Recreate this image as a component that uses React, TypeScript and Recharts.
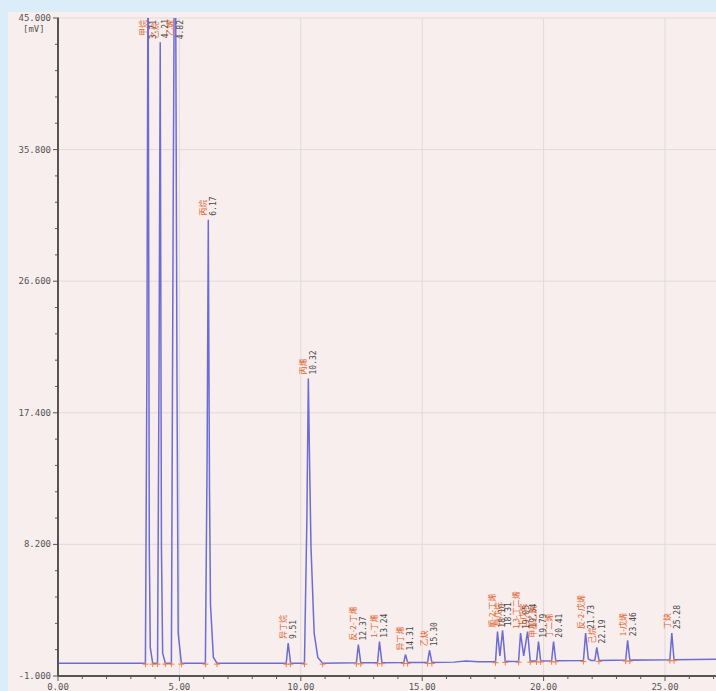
import React from 'react';
import { ComposedChart, Line, Scatter, XAxis, YAxis, ReferenceLine } from 'recharts';

// detector trace: [minutes, mV]
const trace: [number, number][] = [
  [0, -0.1],
  [3.6, -0.1], [3.66, 20], [3.71, 52], [3.76, 8], [3.8, 1.0], [3.9, -0.1],
  [4.1, -0.1], [4.16, 20], [4.21, 43.3], [4.26, 8], [4.31, 0.6], [4.42, -0.1],
  [4.67, -0.1], [4.74, 30], [4.82, 60], [4.9, 20], [4.95, 2], [5.08, -0.1],
  [6.07, -0.1], [6.14, 14], [6.19, 30.9], [6.24, 12], [6.28, 4], [6.4, 0.3], [6.55, -0.1],
  [9.4, -0.1], [9.48, 1.3], [9.58, -0.1],
  [10.15, -0.1], [10.25, 10], [10.31, 19.8], [10.37, 13], [10.42, 8], [10.55, 2], [10.7, 0.3], [10.9, -0.1],
  [12.29, -0.08], [12.37, 1.2], [12.47, -0.08],
  [13.16, -0.07], [13.24, 1.4], [13.34, -0.07],
  [14.24, -0.06], [14.31, 0.5], [14.4, -0.06],
  [15.22, -0.05], [15.3, 0.8], [15.4, -0.05],
  [16.3, -0.03], [16.8, 0.04], [17.3, -0.01],
  [18.02, 0.0], [18.1, 2.1], [18.2, 0.4], [18.31, 2.2], [18.42, 0.02],
  [18.97, 0.03], [19.05, 2.0], [19.18, 0.4], [19.34, 2.1], [19.45, 0.04],
  [19.71, 0.05], [19.79, 1.4], [19.88, 0.05],
  [20.33, 0.06], [20.41, 1.4], [20.5, 0.06],
  [21.64, 0.08], [21.73, 2.0], [21.84, 0.2], [21.95, 0.09], [22.11, 0.09], [22.19, 1.0], [22.28, 0.09],
  [23.38, 0.11], [23.46, 1.5], [23.55, 0.11],
  [25.2, 0.14], [25.28, 2.0], [25.37, 0.14],
  [27.1, 0.17],
];

// peak table
const peakTimes = [3.71, 4.21, 4.82, 6.19, 9.48, 10.31, 12.37, 13.24, 14.31, 15.3, 18.1, 18.31, 19.05, 19.34, 19.79, 20.41, 21.73, 22.19, 23.46, 25.28];
const peakHeights = [52, 43.3, 60, 30.9, 1.3, 19.8, 1.2, 1.4, 0.5, 0.8, 2.1, 2.2, 2.0, 2.1, 1.4, 1.4, 2.0, 1.0, 1.5, 2.0];
const peakNames = ['甲烷', '乙烷', '乙烯', '丙烷', '异丁烷', '丙烯', '反-2-丁烯', '1-丁烯', '异丁烯', '乙炔', '顺-2-丁烯', '异戊烷', '1,3-丁二烯', '正戊烷', '甲基乙炔', '丁二烯', '反-2-戊烯', '己烷', '1-戊烯', '丁炔'];
const peakRtLabels = ['3.71', '4.21', '4.82', '6.17', '9.51', '10.32', '12.37', '13.24', '14.31', '15.30', '18.10', '18.31', '19.05', '19.34', '19.79', '20.41', '21.73', '22.19', '23.46', '25.28'];

// integration marks at peak start / end
const marks: [number, number][] = [
  [3.6, -0.1], [3.9, -0.1], [4.1, -0.1], [4.42, -0.1], [4.67, -0.1], [5.08, -0.1],
  [6.07, -0.1], [6.55, -0.1], [9.4, -0.1], [9.58, -0.1], [10.15, -0.1], [10.9, -0.1],
  [12.29, -0.08], [12.47, -0.08], [13.16, -0.07], [13.34, -0.07], [14.24, -0.06], [14.4, -0.06],
  [15.22, -0.05], [15.4, -0.05], [18.02, 0], [18.42, 0.02], [18.97, 0.03], [19.45, 0.04],
  [19.71, 0.05], [19.88, 0.05], [20.33, 0.06], [20.5, 0.06], [21.64, 0.08], [22.28, 0.09],
  [23.38, 0.11], [23.55, 0.11], [25.2, 0.14], [25.37, 0.14],
];

const xMajor = [0, 5, 10, 15, 20, 25];
const xLabels = ['0.00', '5.00', '10.00', '15.00', '20.00', '25.00'];
const yMajor = [-1, 8.2, 17.4, 26.6, 35.8, 45];
const yLabels = ['-1.000', '8.200', '17.400', '26.600', '35.800', '45.000'];

const xMinor = Array.from({ length: 28 }, (_, i) => i);
const yMinor = Array.from({ length: 26 }, (_, i) => -1 + i * 1.84);

const traceData = trace.map(([t, v]) => ({ t, v }));
const markData = marks.map(([t, v]) => ({ t, v }));
const labelData = peakTimes.map((t, i) => ({
  t,
  v: Math.min(peakHeights[i], 45),
  clipped: peakHeights[i] >= 45,
  name: peakNames[i],
  rt: peakRtLabels[i],
}));

const mono = '"DejaVu Sans Mono", monospace';

const XTick = (props: any) => {
  const { x, y, index } = props;
  const major = index % 5 === 0;
  return (
    <g>
      <line x1={x} x2={x} y1={y} y2={y + (major ? 5 : 3)} stroke="#555" strokeWidth={1} />
      {major && (
        <text x={x} y={y + 14} textAnchor="middle" fontSize={9} fontFamily={mono} fill="#555">
          {xLabels[index / 5]}
        </text>
      )}
    </g>
  );
};

const YTick = (props: any) => {
  const { x, y, index } = props;
  const major = index % 5 === 0;
  return (
    <g>
      <line x1={x - (major ? 5 : 3)} x2={x + 1} y1={y} y2={y} stroke="#555" strokeWidth={1} />
      {major && (
        <text x={x - 7} y={y + 3} textAnchor="end" fontSize={9} fontFamily={mono} fill="#555">
          {yLabels[index / 5]}
        </text>
      )}
    </g>
  );
};

const PeakLabel = (props: any) => {
  const { cx, cy, payload } = props;
  const y = payload.clipped ? cy + 2 : cy - 4;
  const anchor = payload.clipped ? 'end' : 'start';
  const nx = cx - 2;
  const rx = cx + 8;
  return (
    <g>
      <text x={nx} y={y} transform={`rotate(-90 ${nx} ${y})`} textAnchor={anchor} fontSize={8}
        fontFamily='"Noto Sans CJK SC", sans-serif' fill="#e2642f">
        {payload.name}
      </text>
      <text x={rx} y={y} transform={`rotate(-90 ${rx} ${y})`} textAnchor={anchor} fontSize={8}
        fontFamily={mono} fill="#4a4a4a">
        {payload.rt}
      </text>
    </g>
  );
};

const Mark = (props: any) => {
  const { cx, cy } = props;
  return (
    <g>
      <line x1={cx} x2={cx} y1={cy - 1} y2={cy + 4} stroke="#e8804a" strokeWidth={1} />
      <line x1={cx - 3} x2={cx + 3} y1={cy + 1} y2={cy + 1} stroke="#e8804a" strokeWidth={1} />
    </g>
  );
};

export default function App() {
  return (
    <div style={{ position: 'fixed', left: 0, top: 0, width: 716, height: 691, background: '#dcedfa', overflow: 'hidden' }}>
      <div style={{ position: 'absolute', left: 8, top: 12, width: 708, height: 679, background: '#f9eeee' }}>
        <div style={{ position: 'absolute', left: 15, top: 12, fontSize: 9, lineHeight: '10px', fontFamily: mono, color: '#555' }}>[mV]</div>
        <ComposedChart width={708} height={679} margin={{ top: 6, right: 0, bottom: 0, left: 0 }}>
          <XAxis
            dataKey="t"
            type="number"
            domain={[0, 27.1]}
            allowDataOverflow
            ticks={xMinor}
            interval={0}
            tickSize={0}
            tickMargin={0}
            tickLine={false}
            tick={<XTick />}
            height={15}
            axisLine={{ stroke: '#555', strokeWidth: 2 }}
          />
          <YAxis
            type="number"
            domain={[-1, 45]}
            allowDataOverflow
            ticks={yMinor}
            interval={0}
            tickSize={0}
            tickMargin={0}
            tickLine={false}
            tick={<YTick />}
            width={50}
            axisLine={{ stroke: '#555', strokeWidth: 2 }}
          />
          {xMajor.slice(1).map((v) => (
            <ReferenceLine key={'gx' + v} x={v} stroke="#e2d9d9" strokeWidth={1} />
          ))}
          {yMajor.slice(1).map((v) => (
            <ReferenceLine key={'gy' + v} y={v} stroke="#e2d9d9" strokeWidth={1} />
          ))}
          <Line
            data={traceData}
            dataKey="v"
            type="linear"
            stroke="#6c6cd4"
            strokeWidth={1.5}
            dot={false}
            isAnimationActive={false}
          />
          <Scatter data={markData} dataKey="v" shape={<Mark />} isAnimationActive={false} />
          <Scatter data={labelData} dataKey="v" shape={<PeakLabel />} isAnimationActive={false} />
        </ComposedChart>
      </div>
    </div>
  );
}
